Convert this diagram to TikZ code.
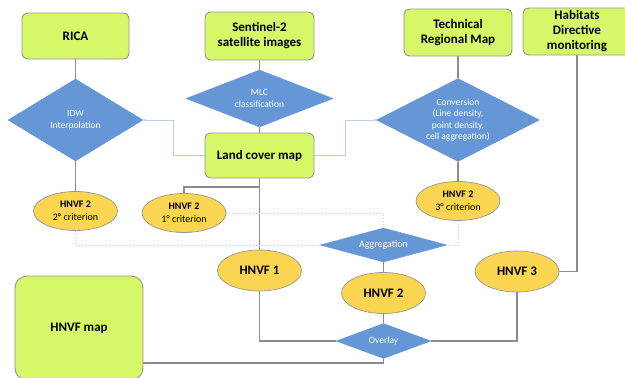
\documentclass[tikz,border=0pt]{standalone}
\usepackage{fontspec}
\setmainfont{Carlito}
\usetikzlibrary{shapes.geometric,arrows.meta,backgrounds}
\definecolor{limefill}{RGB}{214,247,104}
\definecolor{boxborder}{RGB}{150,150,150}
\definecolor{diafill}{RGB}{101,150,214}
\definecolor{ellfill}{RGB}{249,213,82}
\definecolor{conncol}{RGB}{140,140,140}
\definecolor{lightblue}{RGB}{185,208,232}
\tikzset{
  box/.style={draw=boxborder, line width=0.9pt, fill=limefill, rounded corners=6pt,
    align=center, inner sep=1pt, font=\bfseries\fontsize{13}{15}\selectfont},
  dia/.style={diamond, fill=diafill, draw=diafill, inner sep=0pt, align=center,
    text=white, font=\fontsize{9.5}{12}\selectfont},
  ell/.style={ellipse, draw=boxborder, line width=0.7pt, fill=ellfill, inner sep=0pt,
    minimum width=84, minimum height=39, align=center, font=\fontsize{10}{13}\selectfont},
  conn/.style={draw=conncol, line width=1.4pt},
  lbconn/.style={draw=lightblue, line width=1pt, -{Stealth[length=3pt,width=3pt]}},
  dotconn/.style={draw=lightblue, line width=1pt, dotted}
}
\begin{document}
\begin{tikzpicture}[x=1pt,y=-1pt]
\useasboundingbox (0,0) rectangle (625,378);
\coordinate (j1) at (259.5,187);
\coordinate (j2) at (383.5,363);
\coordinate (j3) at (173,120);
\coordinate (j4) at (345,120);
\coordinate (d1) at (383.5,213);
% boxes
\node[box, minimum width=107, minimum height=46] (rica) at (75.5,36) {RICA};
\node[box, minimum width=109, minimum height=48] (sent) at (259.5,36) {Sentinel-2\\satellite images};
\node[box, minimum width=108, minimum height=47] (trm) at (458,32.5) {Technical\\Regional Map};
\node[box, minimum width=108, minimum height=47] (hab) at (577,31.5) {Habitats\\Directive\\monitoring};
\node[box, minimum width=109, minimum height=45] (lcm) at (259.5,155.5) {Land cover map};
\node[box, minimum width=128, minimum height=104, rounded corners=12pt] (map) at (79,328) {HNVF map};
% diamonds
\node[dia, aspect=1.65, minimum width=135, minimum height=82] (idw) at (75.5,120) {IDW\\Interpolation};
\node[dia, aspect=2.58, minimum width=147, minimum height=57] (mlc) at (259.5,98.5) {MLC\\classification};
\node[dia, aspect=1.96, minimum width=163, minimum height=83, font=\fontsize{9.5}{11.5}\selectfont] (conv) at (458,120) {Conversion\\(Line density,\\point density,\\cell aggregation)};
\node[dia, aspect=3.7, minimum width=127, minimum height=34, font=\fontsize{10}{12}\selectfont] (agg) at (383.5,245) {Aggregation};
\node[dia, aspect=2.7, minimum width=95, minimum height=35] (ov) at (383.5,341) {Overlay};
% ellipses
\node[ell] (c2) at (75.5,211) {\textbf{HNVF 2}\\2° criterion};
\node[ell] (c1) at (184,213) {\textbf{HNVF 2}\\1° criterion};
\node[ell] (c3) at (458,201) {\textbf{HNVF 2}\\3° criterion};
\node[ell, minimum height=41, font=\bfseries\fontsize{13}{15}\selectfont] (h1) at (259.5,270.5) {HNVF 1};
\node[ell, minimum height=41, font=\bfseries\fontsize{13}{15}\selectfont] (h2) at (383.5,293) {HNVF 2};
\node[ell, minimum height=41, font=\bfseries\fontsize{13}{15}\selectfont] (h3) at (517,271.5) {HNVF 3};
% connectors
\begin{scope}[on background layer]
\draw[conn] (rica) -- (idw);
\draw[conn] (idw) -- (c2);
\draw[conn] (sent) -- (mlc);
\draw[conn] (mlc) -- (lcm);
\draw[conn] (trm) -- (conv);
\draw[conn] (conv) -- (c3);
\draw[conn] (lcm) -- (h1);
\draw[conn] (j1) -| (c1.north);
\draw[conn] (hab.south) |- (h3.east);
\draw[conn] (agg) -- (h2);
\draw[conn] (h2) -- (ov);
\draw[conn] (h3.south) |- (ov.east);
\draw[conn] (h1.south) |- (ov.west);
\draw[conn] (ov.south) -- (j2) -- (j2 -| map.east);
\draw[lbconn] (lcm.west) -| (j3) -- (idw.east);
\draw[lbconn] (lcm.east) -| (j4) -- (conv.west);
\draw[dotconn] (c1.east) -- (d1) -- (agg.north);
\draw[dotconn] (c2.south) |- (agg.west);
\draw[dotconn] (c3.south) |- (agg.east);
\end{scope}
\end{tikzpicture}
\end{document}
